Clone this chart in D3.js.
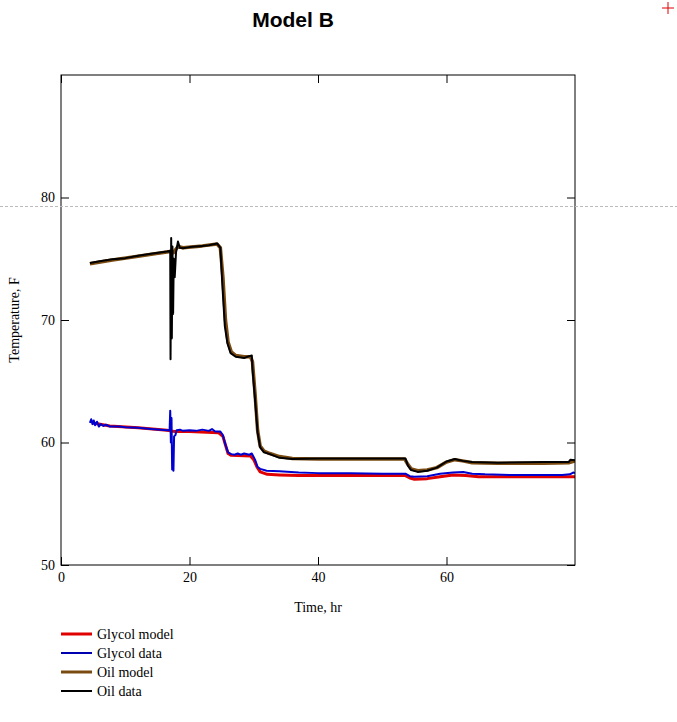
<!DOCTYPE html>
<html>
<head>
<meta charset="utf-8">
<script src="https://cdn.jsdelivr.net/npm/d3@7"></script>
<style>
body { margin: 0; background: #fff; }
</style>
</head>
<body>
<script>
// series, time in hr and temperature in F
var glycolModelT = [5.0, 7.6, 12, 16.5, 17.0, 17.7, 20, 24.5, 25.2, 25.6, 26.0, 26.5, 29.5, 30.0, 30.5, 31.0, 32.1, 34, 37, 45, 53.6, 54.3, 55, 57, 59, 61, 63, 65, 70, 75, 80];
var glycolModelV = [61.6, 61.35, 61.2, 61.0, 60.95, 60.9, 60.9, 60.8, 60.5, 59.8, 59.1, 58.95, 58.9, 58.6, 58.0, 57.6, 57.4, 57.35, 57.3, 57.3, 57.3, 57.1, 57.0, 57.05, 57.2, 57.35, 57.3, 57.2, 57.2, 57.2, 57.2];

var glycolDataT = [4.5, 4.7, 4.9, 5.1, 5.3, 5.6, 5.9, 6.2, 6.6, 7.0, 7.6, 9, 10, 12, 14, 16.5, 16.9, 17.0, 17.1, 17.2, 17.3, 17.4, 17.5, 17.6, 17.8, 18.0, 18.5, 19, 20, 21, 22, 23, 23.5, 24, 24.8, 25.2, 25.6, 26.0, 26.5, 27, 27.5, 28, 28.5, 29.3, 29.7, 30.2, 30.6, 31.0, 32, 34, 37, 40, 45, 50, 53.6, 54.3, 55, 57, 59, 61, 62.6, 64, 66, 70, 75, 78, 79.2, 79.7, 80];
var glycolDataV = [61.6, 61.9, 61.5, 61.8, 61.4, 61.7, 61.3, 61.5, 61.35, 61.45, 61.3, 61.3, 61.25, 61.2, 61.1, 61.0, 61.0, 62.6, 60.0, 62.0, 57.8, 59.5, 57.7, 60.5, 60.6, 61.0, 61.05, 60.95, 61.0, 60.95, 61.05, 60.95, 61.1, 60.9, 60.9, 60.6, 59.8, 59.2, 59.05, 59.0, 59.1, 59.0, 59.1, 59.0, 59.1, 58.6, 58.0, 57.85, 57.7, 57.65, 57.55, 57.5, 57.5, 57.45, 57.45, 57.25, 57.2, 57.25, 57.45, 57.55, 57.6, 57.45, 57.4, 57.35, 57.35, 57.35, 57.4, 57.55, 57.5];

var oilModelT = [4.5, 8, 12, 17, 17.5, 18.2, 19, 22, 24.3, 24.8, 25.2, 25.6, 26.0, 26.5, 27.2, 28.5, 29.5, 29.8, 30.2, 30.6, 31.0, 31.6, 32.5, 34, 36, 40, 45, 53.5, 54.0, 54.5, 55.5, 57, 58.5, 60, 61.3, 62.5, 64, 68, 75, 79, 80];
var oilModelV = [74.6, 74.9, 75.2, 75.6, 75.5, 76.0, 75.9, 76.05, 76.2, 75.9, 73.5, 70.0, 68.2, 67.4, 67.1, 67.0, 67.0, 66.6, 64.0, 61.0, 59.7, 59.3, 59.1, 58.85, 58.7, 58.65, 58.65, 58.65, 58.2, 57.85, 57.7, 57.75, 57.95, 58.4, 58.6, 58.5, 58.35, 58.3, 58.3, 58.35, 58.5];

var oilDataT = [4.5, 6, 8, 10, 12, 14, 16.5, 17.0, 17.05, 17.15, 17.25, 17.35, 17.45, 17.55, 17.7, 17.9, 18.2, 18.5, 19, 20, 22, 23, 24.3, 24.8, 25.1, 25.5, 25.9, 26.4, 27.2, 28.5, 29.3, 29.7, 29.8, 30.2, 30.6, 31.0, 31.6, 32.5, 34, 36, 40, 45, 50, 53.6, 54.0, 54.5, 55.5, 57, 58.5, 60, 61.3, 62.5, 64, 68, 75, 79, 79.3, 80];
var oilDataV = [74.65, 74.8, 74.95, 75.05, 75.25, 75.4, 75.6, 75.65, 66.8, 76.7, 68.5, 76.0, 70.5, 75.0, 73.5, 75.5, 76.4, 75.9, 75.85, 75.95, 76.05, 76.1, 76.25, 75.9, 73.0, 69.5, 68.1, 67.3, 67.0, 66.9, 67.05, 67.1, 66.0, 63.5, 60.8, 59.6, 59.2, 59.05, 58.75, 58.65, 58.7, 58.7, 58.7, 58.7, 58.1, 57.75, 57.6, 57.7, 57.95, 58.45, 58.65, 58.5, 58.4, 58.35, 58.4, 58.4, 58.6, 58.55];

var xTicks = [0, 20, 40, 60];
var yTicks = [50, 60, 70, 80];
var seriesNames = ["Glycol model", "Glycol data", "Oil model", "Oil data"];

var plotLeft = 61, plotTop = 75, plotW = 514, plotH = 490;

var svg = d3.select("body").append("svg")
    .attr("width", 677)
    .attr("height", 722);

var x = d3.scaleLinear().domain([0, 80]).range([plotLeft, plotLeft + plotW]);
var y = d3.scaleLinear().domain([50, 90]).range([plotTop + plotH, plotTop]);

svg.append("text")
    .attr("x", 293)
    .attr("y", 27)
    .attr("text-anchor", "middle")
    .attr("font-family", "Liberation Sans, Arial, sans-serif")
    .attr("font-weight", "bold")
    .attr("font-size", 21)
    .text("Model B");

// red cross, top right
svg.append("path")
    .attr("d", "M662,8H674M668,2V14")
    .attr("stroke", "#d00")
    .attr("stroke-width", 1)
    .attr("fill", "none");

svg.append("defs").append("clipPath").attr("id", "plot")
    .append("rect").attr("x", plotLeft).attr("y", plotTop).attr("width", plotW).attr("height", plotH);

var line = d3.line()
    .x(function(d){return x(d[0]);})
    .y(function(d){return y(d[1]);});

function pairs(t, v){ return t.map(function(d, i){return [d, v[i]];}); }

var series = [
    {data: pairs(oilModelT, oilModelV), color: "#7a4a10", width: 3.5},
    {data: pairs(oilDataT, oilDataV), color: "#000", width: 2},
    {data: pairs(glycolModelT, glycolModelV), color: "#e00000", width: 3},
    {data: pairs(glycolDataT, glycolDataV), color: "#0000d0", width: 2}
];

svg.append("g").attr("clip-path", "url(#plot)")
    .selectAll("path")
    .data(series)
    .enter().append("path")
    .attr("d", function(d){return line(d.data);})
    .attr("fill", "none")
    .attr("stroke", function(d){return d.color;})
    .attr("stroke-width", function(d){return d.width;})
    .attr("stroke-linejoin", "round");

// axes with inward ticks on all four sides
var serif = "Liberation Serif, Times New Roman, serif";

var gl = svg.append("g")
    .attr("transform", "translate(" + plotLeft + ",0)")
    .call(d3.axisLeft(y).tickValues(yTicks).tickSizeInner(-8).tickSizeOuter(0).tickPadding(6));
var gr = svg.append("g")
    .attr("transform", "translate(" + (plotLeft + plotW) + ",0)")
    .call(d3.axisRight(y).tickValues(yTicks).tickSizeInner(-8).tickSizeOuter(0).tickFormat(""));
var gb = svg.append("g")
    .attr("transform", "translate(0," + (plotTop + plotH) + ")")
    .call(d3.axisBottom(x).tickValues(xTicks).tickSizeInner(-8).tickSizeOuter(0).tickPadding(7));
var gt = svg.append("g")
    .attr("transform", "translate(0," + plotTop + ")")
    .call(d3.axisTop(x).tickValues(xTicks).tickSizeInner(-8).tickSizeOuter(0).tickFormat(""));

[gl, gr, gb, gt].forEach(function(g){
    g.selectAll("path").remove();
    g.selectAll("line").attr("stroke", "#000");
    g.selectAll("text")
        .attr("font-family", serif)
        .attr("font-size", 14)
        .attr("fill", "#000");
});

svg.append("rect")
    .attr("x", plotLeft).attr("y", plotTop)
    .attr("width", plotW).attr("height", plotH)
    .attr("fill", "none")
    .attr("stroke", "#000")
    .attr("stroke-width", 1);

svg.append("text")
    .attr("x", x(40))
    .attr("y", 612)
    .attr("text-anchor", "middle")
    .attr("font-family", serif)
    .attr("font-size", 14)
    .text("Time, hr");

svg.append("text")
    .attr("transform", "translate(19," + y(70) + ") rotate(-90)")
    .attr("text-anchor", "middle")
    .attr("font-family", serif)
    .attr("font-size", 14)
    .text("Temperature, F");

// grey dashed guide line across the page
svg.append("line")
    .attr("x1", 0).attr("x2", 677)
    .attr("y1", 206.5).attr("y2", 206.5)
    .attr("stroke", "#bbb")
    .attr("stroke-width", 1)
    .attr("stroke-dasharray", "3,2");

var legendColors = ["#e00000", "#0000b0", "#7a4a10", "#000"];
var legendWidths = [3, 2, 3, 2];

var leg = svg.selectAll("g.legend")
    .data(seriesNames)
    .enter().append("g")
    .attr("class", "legend")
    .attr("transform", function(d, i){return "translate(0," + (634 + i * 19) + ")";});

leg.append("line")
    .attr("x1", 61).attr("x2", 92)
    .attr("stroke", function(d, i){return legendColors[i];})
    .attr("stroke-width", function(d, i){return legendWidths[i];});

leg.append("text")
    .attr("x", 97)
    .attr("y", 0)
    .attr("dy", "0.35em")
    .attr("font-family", serif)
    .attr("font-size", 14)
    .text(function(d){return d;});
</script>
</body>
</html>
